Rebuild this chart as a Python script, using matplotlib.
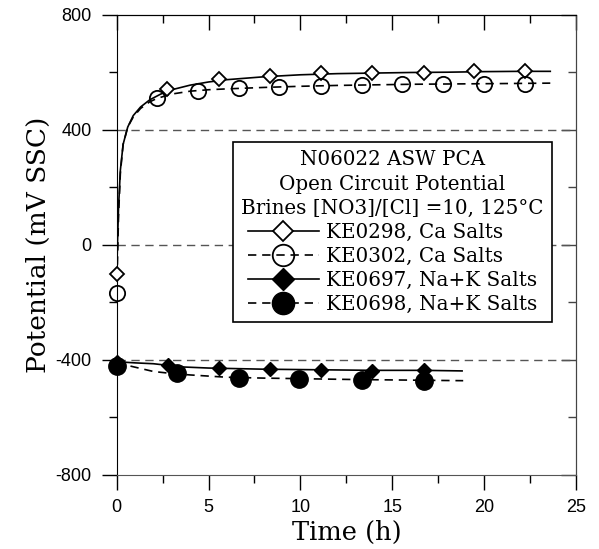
import numpy as np
import matplotlib
matplotlib.use("Agg")
import matplotlib.pyplot as plt
from matplotlib.lines import Line2D
from matplotlib.ticker import MultipleLocator

plt.rcParams["axes.unicode_minus"] = False

# --- data ---
# KE0298, Ca salts (open diamonds, solid line)
t_298_line = [0, 0.05, 0.1, 0.2, 0.35, 0.6, 0.9, 1.3, 1.8, 2.4, 3, 4, 5, 6, 7, 8, 10, 12, 14, 16, 18, 20, 22, 23.6]
v_298_line = [-100, 20, 130, 260, 350, 410, 450, 480, 505, 525, 540, 556, 567, 575, 580, 585, 592, 596, 598, 600, 601, 603, 604, 604]
t_298_pts = [0, 2.75, 5.57, 8.35, 11.1, 13.9, 16.7, 19.46, 22.25]
v_298_pts = [-100, 542, 577, 589, 597, 597, 599, 605, 605]

# KE0302, Ca salts (open circles, dashed line)
t_302_line = [0, 0.05, 0.1, 0.2, 0.35, 0.6, 0.9, 1.3, 1.8, 2.2, 3, 4, 5, 6, 8, 10, 12, 14, 16, 18, 20, 22, 23.6]
v_302_line = [-167, -40, 100, 250, 350, 410, 445, 475, 498, 510, 525, 535, 540, 543, 548, 552, 555, 557, 559, 560, 561, 562, 563]
t_302_pts = [0, 2.2, 4.4, 6.67, 8.85, 11.1, 13.33, 15.54, 17.77, 20.0, 22.25]
v_302_pts = [-167, 510, 537, 547, 548, 553, 555, 559, 559, 560, 560]

# KE0697, Na+K salts (filled diamonds, solid line)
t_697_line = [0, 1, 2, 2.7, 3.5, 5, 8, 11, 14, 16.7, 18.8]
v_697_line = [-406, -410, -413, -418, -424, -428, -432, -434, -436, -436, -438]
t_697_pts = [0, 2.77, 5.57, 8.34, 11.1, 13.9, 16.7]
v_697_pts = [-406, -417, -429, -433, -435, -437, -435]

# KE0698, Na+K salts (filled circles, dashed line)
t_698_line = [0, 1, 2, 3, 4, 6, 8, 10, 13, 16, 18.86]
v_698_line = [-410, -425, -440, -447, -452, -460, -463, -465, -468, -470, -472]
t_698_pts = [0, 3.3, 6.67, 9.94, 13.33, 16.7]
v_698_pts = [-421, -446, -464, -467, -470, -473]

labels = ["KE0298, Ca Salts", "KE0302, Ca Salts", "KE0697, Na+K Salts", "KE0698, Na+K Salts"]
legend_title = "N06022 ASW PCA\nOpen Circuit Potential\nBrines [NO3]/[Cl] =10, 125\u00b0C"
ref_levels = [400, 0, -400]

SERIF = "DejaVu Serif"
SANS = "Liberation Sans"

fig = plt.figure(figsize=(5.99, 5.49), dpi=100)
ax = fig.add_axes([0.1948, 0.1348, 0.7668, 0.8379])

# reference lines
for lv in ref_levels:
    ax.axhline(lv, color="#555555", lw=1.0, dashes=(6, 4), zorder=1)

dash = (5, 3.5)
ax.plot(t_298_line, v_298_line, color="black", lw=1.2, zorder=2)
ax.plot(t_302_line, v_302_line, color="black", lw=1.2, dashes=dash, zorder=2)
ax.plot(t_697_line, v_697_line, color="black", lw=1.2, zorder=2)
ax.plot(t_698_line, v_698_line, color="black", lw=1.2, dashes=dash, zorder=2)

mk_298 = dict(marker="D", ms=7, mfc="white", mec="black", mew=1.3)
mk_302 = dict(marker="o", ms=11, mfc="none", mec="black", mew=1.3)
mk_697 = dict(marker="D", ms=7.5, mfc="black", mec="black", mew=1.0)
mk_698 = dict(marker="o", ms=12.5, mfc="black", mec="black", mew=1.0)

ax.plot(t_298_pts, v_298_pts, ls="none", clip_on=False, zorder=3, **mk_298)
ax.plot(t_302_pts, v_302_pts, ls="none", clip_on=False, zorder=3, **mk_302)
ax.plot(t_697_pts, v_697_pts, ls="none", clip_on=False, zorder=3, **mk_697)
ax.plot(t_698_pts, v_698_pts, ls="none", clip_on=False, zorder=3, **mk_698)

ax.set_xlim(0, 25)
ax.set_ylim(-800, 800)
ax.xaxis.set_major_locator(MultipleLocator(5))
ax.xaxis.set_minor_locator(MultipleLocator(2.5))
ax.yaxis.set_major_locator(MultipleLocator(400))
ax.yaxis.set_minor_locator(MultipleLocator(200))

ax.tick_params(which="major", direction="out", length=11, width=1, pad=7,
               labelsize=13, top=False, right=False)
ax.tick_params(axis="x", which="major", pad=6)
ax.tick_params(which="minor", direction="out", length=6, width=1,
               top=False, right=False)
for lab in ax.get_xticklabels() + ax.get_yticklabels():
    lab.set_fontfamily(SANS)

# top / right ticks pointing inward
sx = ax.secondary_xaxis("top")
sx.xaxis.set_major_locator(MultipleLocator(5))
sx.xaxis.set_minor_locator(MultipleLocator(2.5))
sx.tick_params(which="major", direction="in", length=11, width=1, labeltop=False)
sx.tick_params(which="minor", direction="in", length=6, width=1)
sy = ax.secondary_yaxis("right")
sy.yaxis.set_major_locator(MultipleLocator(400))
sy.yaxis.set_minor_locator(MultipleLocator(200))
sy.tick_params(which="major", direction="in", length=11, width=1, labelright=False,
               color="#444444")
sy.tick_params(which="minor", direction="in", length=6, width=1, color="#444444")
sy.spines["right"].set_color("#444444")

ax.spines["bottom"].set_color("#555555")
ax.spines["right"].set_color("#444444")

ax.set_xlabel("Time (h)", fontfamily=SERIF, fontsize=18.5, labelpad=3)
ax.set_ylabel("Potential (mV SSC)", fontfamily=SERIF, fontsize=19, labelpad=3)

# legend handles use bigger markers than the plot
handles = [
    Line2D([], [], color="black", lw=1.2, **{**mk_298, "ms": 10.5}),
    Line2D([], [], color="black", lw=1.2, dashes=dash, **{**mk_302, "ms": 15.5}),
    Line2D([], [], color="black", lw=1.2, **{**mk_697, "ms": 11}),
    Line2D([], [], color="black", lw=1.2, dashes=dash, **{**mk_698, "ms": 16}),
]
leg = ax.legend(handles, labels, title=legend_title,
                loc="upper left", bbox_to_anchor=(0.253, 0.724), borderaxespad=0,
                prop={"family": SERIF, "size": 14.3},
                title_fontproperties={"family": SERIF, "size": 14.3},
                fancybox=False, edgecolor="black", framealpha=1,
                handlelength=3.6, handletextpad=0.35, labelspacing=0.25,
                borderpad=0.42)
leg.get_title().set_multialignment("center")
leg.get_title().set_linespacing(1.35)
leg.get_frame().set_linewidth(1.2)
leg.set_zorder(5)

fig.savefig("out.png", dpi=100)
